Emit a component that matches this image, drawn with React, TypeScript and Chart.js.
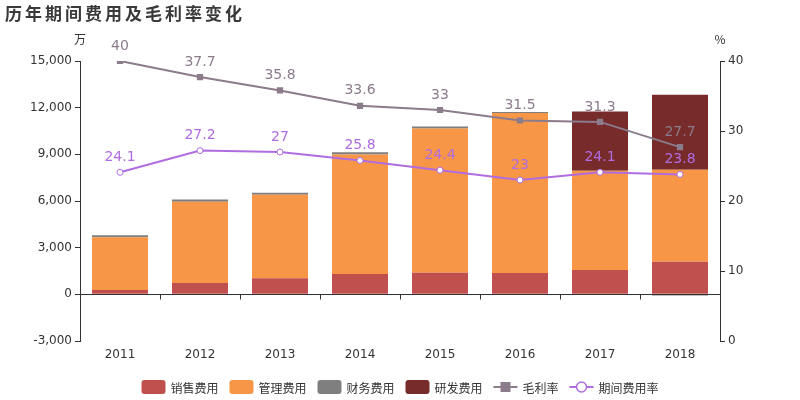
import React, { useEffect, useRef } from "react";
import { Chart, registerables } from "chart.js";

Chart.register(...registerables);

const categories = ["2011", "2012", "2013", "2014", "2015", "2016", "2017", "2018"];
const salesExpense = [277, 730, 1030, 1310, 1380, 1370, 1565, 2100];
const adminExpense = [3385, 5214, 5365, 7680, 9285, 10287, 6376, 5905];
const financeExpense = [140, 150, 130, 150, 130, 60, -30, -80];
const rdExpense = [null, null, null, null, null, null, 3819, 4830];
const grossMargin = [40, 37.7, 35.8, 33.6, 33, 31.5, 31.3, 27.7];
const periodRate = [24.1, 27.2, 27, 25.8, 24.4, 23, 24.1, 23.8];
const leftTicks = [-3000, 0, 3000, 6000, 9000, 12000, 15000];
const rightTicks = [0, 10, 20, 30, 40];

const title = "历年期间费用及毛利率变化";
const FONT = "'DejaVu Sans', 'Noto Sans CJK SC', sans-serif";

const C_SALES = "#c0504d";
const C_ADMIN = "#f79646";
const C_FIN = "#7f7f7f";
const C_RD = "#772b2b";
const C_GM = "#8b7b8b";
const C_RATE = "#b06de0";

const legendItems = [
  { label: "销售费用", type: "box", color: C_SALES },
  { label: "管理费用", type: "box", color: C_ADMIN },
  { label: "财务费用", type: "box", color: C_FIN },
  { label: "研发费用", type: "box", color: C_RD },
  { label: "毛利率", type: "square", color: C_GM },
  { label: "期间费用率", type: "circle", color: C_RATE },
];

function roundRect(ctx: CanvasRenderingContext2D, x: number, y: number, w: number, h: number, r: number) {
  ctx.beginPath();
  ctx.moveTo(x + r, y);
  ctx.lineTo(x + w - r, y);
  ctx.quadraticCurveTo(x + w, y, x + w, y + r);
  ctx.lineTo(x + w, y + h - r);
  ctx.quadraticCurveTo(x + w, y + h, x + w - r, y + h);
  ctx.lineTo(x + r, y + h);
  ctx.quadraticCurveTo(x, y + h, x, y + h - r);
  ctx.lineTo(x, y + r);
  ctx.quadraticCurveTo(x, y, x + r, y);
  ctx.closePath();
}

const decorPlugin = {
  id: "decor",
  afterDatasetsDraw(chart: any) {
    const ctx: CanvasRenderingContext2D = chart.ctx;
    const area = chart.chartArea;
    const yScale = chart.scales.y;
    const y0 = Math.round(yScale.getPixelForValue(0)) + 0.5;
    ctx.save();
    ctx.strokeStyle = "#333";
    ctx.lineWidth = 1;
    ctx.beginPath();
    ctx.moveTo(area.left, y0);
    ctx.lineTo(area.right, y0);
    const n = categories.length;
    const step = (area.right - area.left) / n;
    for (let i = 1; i < n; i++) {
      const x = Math.round(area.left + step * i) + 0.5;
      ctx.moveTo(x, y0);
      ctx.lineTo(x, y0 + 5);
    }
    ctx.stroke();

    ctx.font = `14px ${FONT}`;
    ctx.textAlign = "center";
    ctx.textBaseline = "middle";
    chart.data.datasets.forEach((ds: any, di: number) => {
      if (ds.type !== "line") return;
      const meta = chart.getDatasetMeta(di);
      ctx.fillStyle = ds.borderColor;
      meta.data.forEach((pt: any, i: number) => {
        ctx.fillText(String(ds.data[i]), pt.x, pt.y - 15);
      });
    });
    ctx.restore();
  },
  afterDraw(chart: any) {
    const ctx: CanvasRenderingContext2D = chart.ctx;
    const area = chart.chartArea;
    ctx.save();
    ctx.fillStyle = "#3a3a3a";
    ctx.font = `bold 17px 'Noto Sans CJK SC', sans-serif`;
    ctx.textBaseline = "middle";
    ctx.textAlign = "left";
    let tx = 5;
    for (const ch of title) {
      ctx.fillText(ch, tx, 14);
      tx += 20;
    }
    ctx.font = `12px 'Noto Sans CJK SC', ${FONT}`;
    ctx.fillStyle = "#333";
    ctx.textAlign = "center";
    ctx.fillText("万", area.left, 39);
    ctx.fillText("%", area.right, 39);

    ctx.font = `12px 'Noto Sans CJK SC', sans-serif`;
    ctx.textAlign = "left";
    const boxW = 24;
    const gapIcon = 5;
    const gapItem = 11;
    const widths = legendItems.map((it) => boxW + gapIcon + ctx.measureText(it.label).width);
    const total = widths.reduce((a, b) => a + b, 0) + gapItem * (legendItems.length - 1);
    let x = (800 - total) / 2;
    const ly = 387;
    legendItems.forEach((it, i) => {
      if (it.type === "box") {
        ctx.fillStyle = it.color;
        roundRect(ctx, x, ly - 7, boxW, 14, 3);
        ctx.fill();
      } else {
        ctx.strokeStyle = it.color;
        ctx.lineWidth = 2;
        ctx.beginPath();
        ctx.moveTo(x, ly);
        ctx.lineTo(x + boxW, ly);
        ctx.stroke();
        if (it.type === "square") {
          ctx.fillStyle = it.color;
          ctx.fillRect(x + boxW / 2 - 5, ly - 5, 10, 10);
        } else {
          ctx.fillStyle = "#fff";
          ctx.lineWidth = 1.5;
          ctx.beginPath();
          ctx.arc(x + boxW / 2, ly, 5, 0, Math.PI * 2);
          ctx.fill();
          ctx.stroke();
        }
      }
      ctx.fillStyle = "#333";
      ctx.fillText(it.label, x + boxW + gapIcon, ly + 1);
      x += widths[i] + gapItem;
    });
    ctx.restore();
  },
};

export default function App() {
  const ref = useRef<HTMLCanvasElement | null>(null);
  useEffect(() => {
    document.body.style.margin = "0";
    if (!ref.current) return;
    const chart = new Chart(ref.current, {
      type: "bar",
      data: {
        labels: categories,
        datasets: [
          { type: "line", label: "毛利率", data: grossMargin, yAxisID: "y1", borderColor: C_GM, backgroundColor: C_GM, borderWidth: 2, pointStyle: "rect", pointRadius: 3, pointBackgroundColor: C_GM, pointBorderColor: C_GM, order: 1, tension: 0 },
          { type: "line", label: "期间费用率", data: periodRate, yAxisID: "y1", borderColor: C_RATE, backgroundColor: "#fff", borderWidth: 2, pointStyle: "circle", pointRadius: 3, pointBorderWidth: 1, pointBackgroundColor: "#fff", pointBorderColor: C_RATE, order: 1, tension: 0 },
          { type: "bar", label: "销售费用", data: salesExpense, backgroundColor: C_SALES, stack: "s", order: 2 },
          { type: "bar", label: "管理费用", data: adminExpense, backgroundColor: C_ADMIN, stack: "s", order: 2 },
          { type: "bar", label: "财务费用", data: financeExpense, backgroundColor: C_FIN, stack: "s", order: 2 },
          { type: "bar", label: "研发费用", data: rdExpense as any, backgroundColor: C_RD, stack: "s", order: 2 },
        ] as any,
      },
      options: {
        responsive: false,
        animation: false,
        maintainAspectRatio: false,
        layout: { padding: { top: 61, bottom: 0, left: 0, right: 0 } },
        datasets: { bar: { barPercentage: 0.7, categoryPercentage: 1, borderWidth: 0 } } as any,
        plugins: { legend: { display: false }, tooltip: { enabled: false }, title: { display: false } },
        scales: {
          x: {
            stacked: true,
            grid: { display: false, drawTicks: false },
            border: { display: false },
            ticks: { color: "#333", font: { size: 12, family: FONT }, padding: 7 },
            afterFit: (s: any) => { s.height = 59; },
          },
          y: {
            stacked: true,
            position: "left",
            min: -3000,
            max: 15000,
            afterBuildTicks: (s: any) => { s.ticks = leftTicks.map((v) => ({ value: v })); },
            grid: { drawOnChartArea: false, drawTicks: true, tickLength: 5, color: "#333" },
            border: { display: true, color: "#333" },
            ticks: { color: "#333", font: { size: 12, family: FONT }, padding: 3, callback: (v: any) => Number(v).toLocaleString("en-US") },
            afterFit: (s: any) => { s.width = 80; },
          },
          y1: {
            position: "right",
            min: 0,
            max: 40,
            afterBuildTicks: (s: any) => { s.ticks = rightTicks.map((v) => ({ value: v })); },
            grid: { drawOnChartArea: false, drawTicks: true, tickLength: 5, color: "#333" },
            border: { display: true, color: "#333" },
            ticks: { color: "#333", font: { size: 12, family: FONT }, padding: 3 },
            afterFit: (s: any) => { s.width = 80; },
          },
        },
      } as any,
      plugins: [decorPlugin],
    });
    return () => chart.destroy();
  }, []);
  return (
    <div style={{ width: 800, height: 400 }}>
      <canvas ref={ref} width={800} height={400} style={{ width: 800, height: 400, display: "block" }} />
    </div>
  );
}
